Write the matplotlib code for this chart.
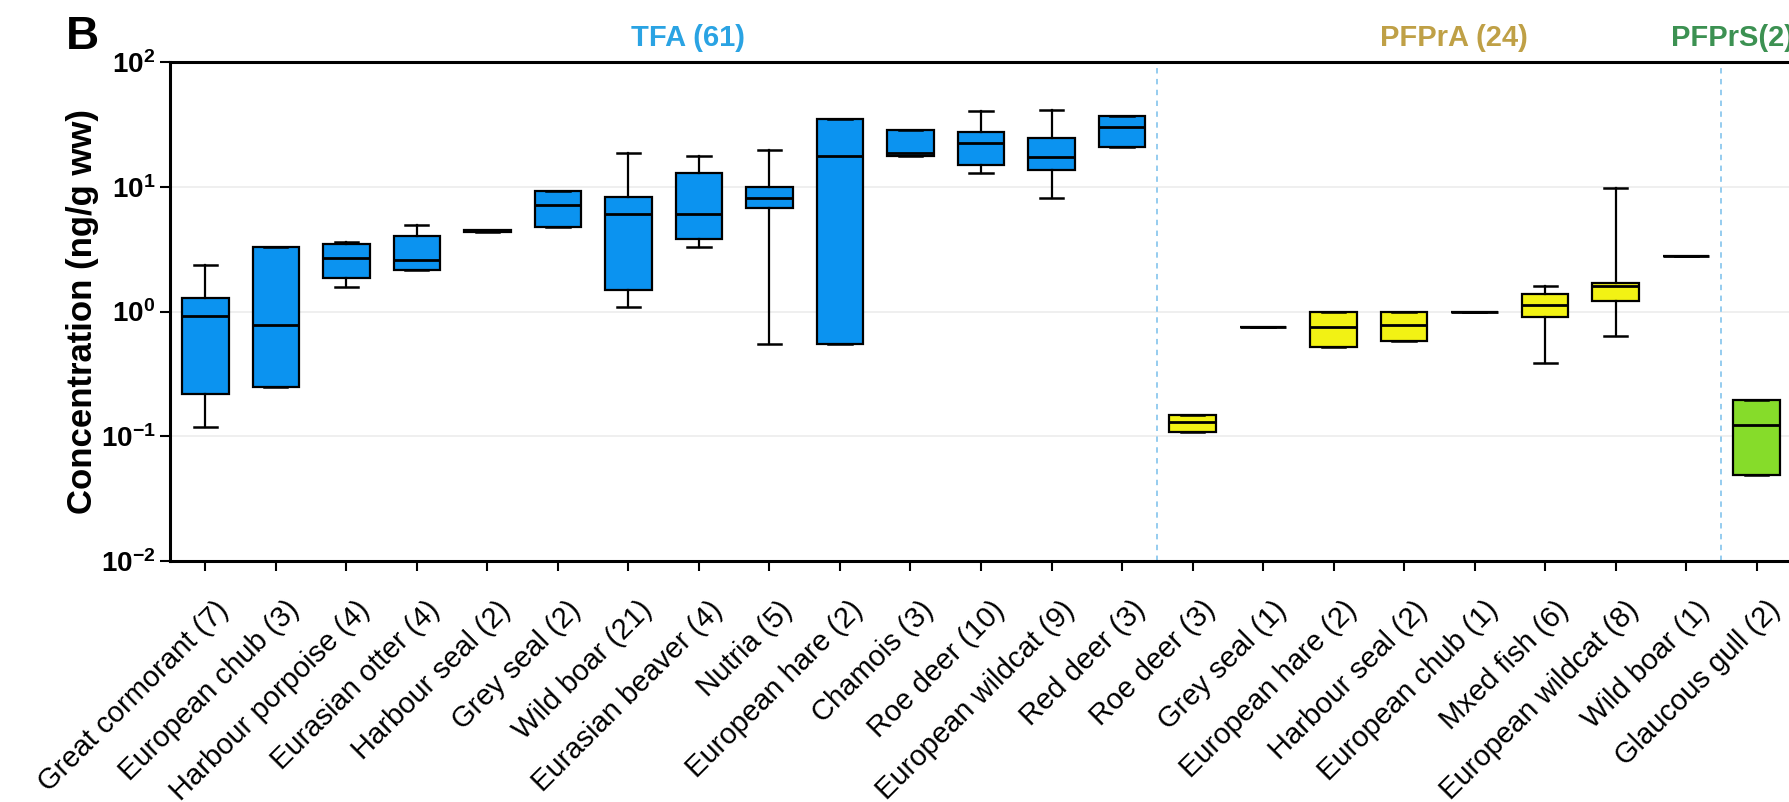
import matplotlib
matplotlib.use("Agg")
import matplotlib.pyplot as plt
from matplotlib.transforms import ScaledTranslation

plt.rcParams['font.family'] = ['Liberation Sans', 'DejaVu Sans']
plt.rcParams['mathtext.fontset'] = 'custom'
plt.rcParams['mathtext.rm'] = 'Liberation Sans:bold'
plt.rcParams['mathtext.bf'] = 'Liberation Sans:bold'
plt.rcParams['mathtext.default'] = 'rm'

# species (sample count) per compound group
labels = ['Great cormorant (7)', 'European chub (3)', 'Harbour porpoise (4)', 'Eurasian otter (4)',
          'Harbour seal (2)', 'Grey seal (2)', 'Wild boar (21)', 'Eurasian beaver (4)', 'Nutria (5)',
          'European hare (2)', 'Chamois (3)', 'Roe deer (10)', 'European wildcat (9)', 'Red deer (3)',
          'Roe deer (3)', 'Grey seal (1)', 'European hare (2)', 'Harbour seal (2)', 'European chub (1)',
          'Mxed fish (6)', 'European wildcat (8)', 'Wild boar (1)',
          'Glaucous gull (2)']
groups = ['TFA'] * 14 + ['PFPrA'] * 8 + ['PFPrS']

# box statistics, ng/g ww
whislo = [0.118, 0.25, 1.58, 2.14, 4.3, 4.8, 1.09, 3.3, 0.553, 0.553, 17.8, 12.9, 8.2, 20.9,
          0.108, 0.757, 0.52, 0.583, 0.99, 0.388, 0.638, 2.8, 0.049]
q1 = [0.217, 0.25, 1.87, 2.14, 4.3, 4.8, 1.49, 3.8, 6.8, 0.553, 17.8, 14.9, 13.7, 20.9,
      0.108, 0.757, 0.52, 0.583, 0.99, 0.897, 1.22, 2.8, 0.049]
med = [0.92, 0.78, 2.69, 2.57, 4.4, 7.1, 6.1, 6.0, 8.2, 17.8, 18.6, 22.6, 17.3, 29.9,
       0.130, 0.757, 0.757, 0.778, 0.99, 1.13, 1.60, 2.8, 0.124]
q3 = [1.29, 3.26, 3.47, 4.0, 4.5, 9.2, 8.3, 12.8, 10.0, 34.8, 28.4, 27.4, 24.4, 37.2,
      0.148, 0.757, 0.99, 0.99, 0.99, 1.39, 1.68, 2.8, 0.196]
whishi = [2.36, 3.26, 3.63, 4.94, 4.5, 9.2, 18.8, 17.8, 19.8, 34.8, 28.4, 40.4, 41.2, 37.2,
          0.148, 0.757, 0.99, 0.99, 0.99, 1.59, 9.73, 2.8, 0.196]

group_titles = ['TFA (61)', 'PFPrA (24)', 'PFPrS(2)']
fill_colors = {'TFA': '#0B93F0', 'PFPrA': '#F2F214', 'PFPrS': '#86DC2A'}
title_colors = {'TFA': '#2AA3E3', 'PFPrA': '#BFA046', 'PFPrS': '#3C9152'}

fig = plt.figure(figsize=(17.89, 8.02), dpi=100)
ax = fig.add_axes([170 / 1789, (802 - 561) / 802, (1792 - 170) / 1789, (561 - 62) / 802])

stats = [dict(label=l, whislo=a, q1=b, med=c, q3=d, whishi=e)
         for l, a, b, c, d, e in zip(labels, whislo, q1, med, q3, whishi)]
pos = list(range(len(labels)))
bp = ax.bxp(stats, positions=pos, widths=0.66, capwidths=0.33, showfliers=False,
            patch_artist=True,
            boxprops=dict(edgecolor='black', linewidth=1.6),
            medianprops=dict(color='black', linewidth=2.0),
            whiskerprops=dict(color='black', linewidth=1.6),
            capprops=dict(color='black', linewidth=1.8))
for patch, g in zip(bp['boxes'], groups):
    patch.set_facecolor(fill_colors[g])

ax.set_yscale('log')
ax.set_ylim(1e-2, 1e2)
ax.set_xlim(-0.5, len(labels) - 0.5)
ax.set_yticks([1e-2, 1e-1, 1e0, 1e1, 1e2])
ax.set_yticklabels(['$10^{-2}$', '$10^{-1}$', '$10^{0}$', '$10^{1}$', '$10^{2}$'], fontsize=20)
ax.minorticks_off()
ax.yaxis.grid(True, color='#ECECEC', linewidth=1.2)
ax.set_axisbelow(True)

ax.set_xticks(pos)
ax.set_xticklabels(labels, rotation=45, ha='right', rotation_mode='anchor', fontsize=21)
ax.tick_params(axis='both', direction='out', length=7, width=1.5, colors='black')
ax.tick_params(axis='x', pad=18)
shift = ScaledTranslation(0.09, 0, fig.dpi_scale_trans)
for lab in ax.get_xticklabels():
    lab.set_transform(lab.get_transform() + shift)

for side in ['left', 'bottom', 'top', 'right']:
    ax.spines[side].set_linewidth(2.2)

# separators between compound groups
for x in [13.5, 21.5]:
    ax.axvline(x, color='#8CC8EE', linestyle=(0, (3, 3)), linewidth=1.3)

tr = ax.get_xaxis_transform()
ax.text(6.85, 1.048, group_titles[0], transform=tr, ha='center', va='center',
        fontsize=21, fontweight='bold', color=title_colors['TFA'])
ax.text(17.7, 1.048, group_titles[1], transform=tr, ha='center', va='center',
        fontsize=21, fontweight='bold', color=title_colors['PFPrA'])
ax.text(20.78, 1.048, group_titles[2], transform=tr, ha='left', va='center',
        fontsize=21, fontweight='bold', color=title_colors['PFPrS'], clip_on=False)

ax.set_ylabel('Concentration (ng/g ww)', fontsize=25, fontweight='bold')
ax.yaxis.set_label_coords(-0.044, 0.5)
fig.text(82 / 1789, 1 - 37 / 802, 'B', fontsize=33, fontweight='bold', ha='center', va='center')

fig.savefig('out.png', dpi=100)
